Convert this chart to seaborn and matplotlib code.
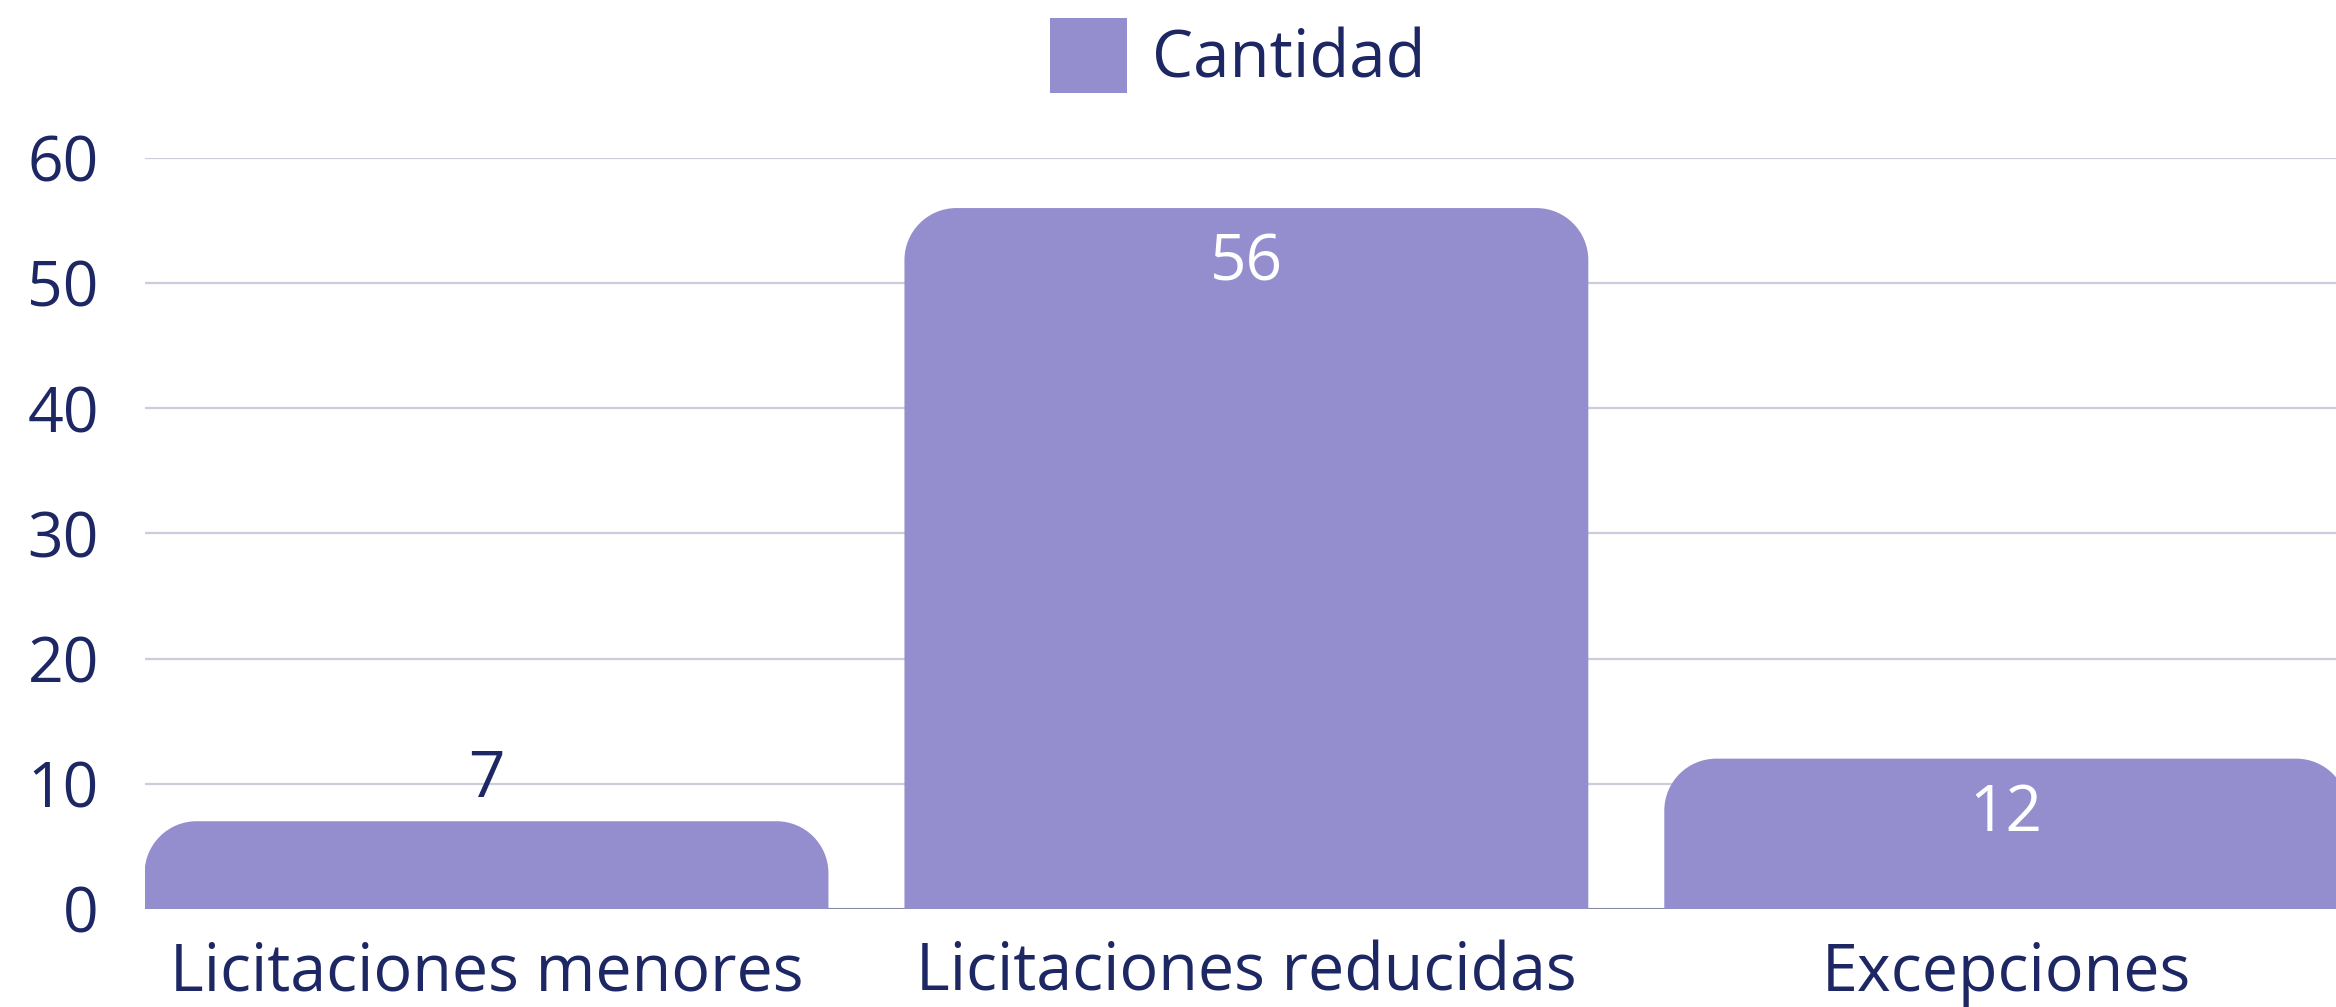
import matplotlib
matplotlib.use('Agg')
import matplotlib.pyplot as plt
import seaborn as sns
import pandas as pd
from matplotlib.path import Path
from matplotlib.patches import PathPatch, Patch

# datos
categorias = ['Licitaciones menores', 'Licitaciones reducidas', 'Excepciones']
cantidad = [7, 56, 12]
yticks = [0, 10, 20, 30, 40, 50, 60]
serie = 'Cantidad'

color_barra = '#948ecf'
color_texto = '#1c2763'
color_grilla = '#cbcddd'

sns.set_theme(style='white')
plt.rcParams['font.family'] = ['Open Sans', 'DejaVu Sans']

df = pd.DataFrame({'categoria': categorias, 'cantidad': cantidad})

fig = plt.figure(figsize=(23.36, 10.07), dpi=100)
ax = fig.add_axes([0.0619, 0.0975, 0.9381, 0.7456])

sns.barplot(data=df, x='categoria', y='cantidad', color=color_barra,
            saturation=1, width=0.9, ax=ax)

ax.set_xlim(-0.45, 2.434)
ax.set_ylim(0, 60)
ax.set_yticks(yticks)

# radio de las esquinas en pixeles -> unidades de datos
radio_px = 52
rx = radio_px / (ax.bbox.width / (2.434 + 0.45))
ry = radio_px / (ax.bbox.height / 60)
k = 0.5523

for p in list(ax.patches):
    x0 = p.get_x()
    ancho = p.get_width()
    alto = p.get_height()
    x1 = x0 + ancho
    verts = [(x0, 0), (x0, alto - ry),
             (x0, alto - ry + k * ry), (x0 + rx - k * rx, alto), (x0 + rx, alto),
             (x1 - rx, alto),
             (x1 - rx + k * rx, alto), (x1, alto - ry + k * ry), (x1, alto - ry),
             (x1, 0), (x0, 0)]
    codes = [Path.MOVETO, Path.LINETO,
             Path.CURVE4, Path.CURVE4, Path.CURVE4,
             Path.LINETO,
             Path.CURVE4, Path.CURVE4, Path.CURVE4,
             Path.LINETO, Path.CLOSEPOLY]
    ax.add_patch(PathPatch(Path(verts, codes), facecolor=color_barra,
                           edgecolor='none', zorder=2))
    p.set_visible(False)

# etiquetas de valor
for i, v in enumerate(cantidad):
    if v >= 10:
        ax.annotate(str(v), (i, v), xytext=(0, -40), textcoords='offset points',
                    ha='center', va='center', color='white', fontsize=46)
    else:
        ax.annotate(str(v), (i, v), xytext=(0, 30), textcoords='offset points',
                    ha='center', va='center', color=color_texto, fontsize=46)

ax.set_axisbelow(True)
ax.yaxis.grid(True, color=color_grilla, linewidth=1.6)
ax.xaxis.grid(False)
ax.axhline(0, color='#7d819b', linewidth=2, zorder=1)
sns.despine(ax=ax, left=True, bottom=True, top=True, right=True)

ax.set_xlabel('')
ax.set_ylabel('')
ax.tick_params(axis='y', length=0, pad=33, labelsize=45, labelcolor=color_texto)
ax.tick_params(axis='x', length=0, pad=23, labelsize=46.5, labelcolor=color_texto)

fig.legend(handles=[Patch(facecolor=color_barra, edgecolor='none', label=serie)],
           loc='center', bbox_to_anchor=(0.530, 0.945), frameon=False,
           fontsize=47, labelcolor=color_texto,
           handlelength=1.18, handleheight=1.40, handletextpad=0.38)

fig.savefig('out.png', dpi=100)
